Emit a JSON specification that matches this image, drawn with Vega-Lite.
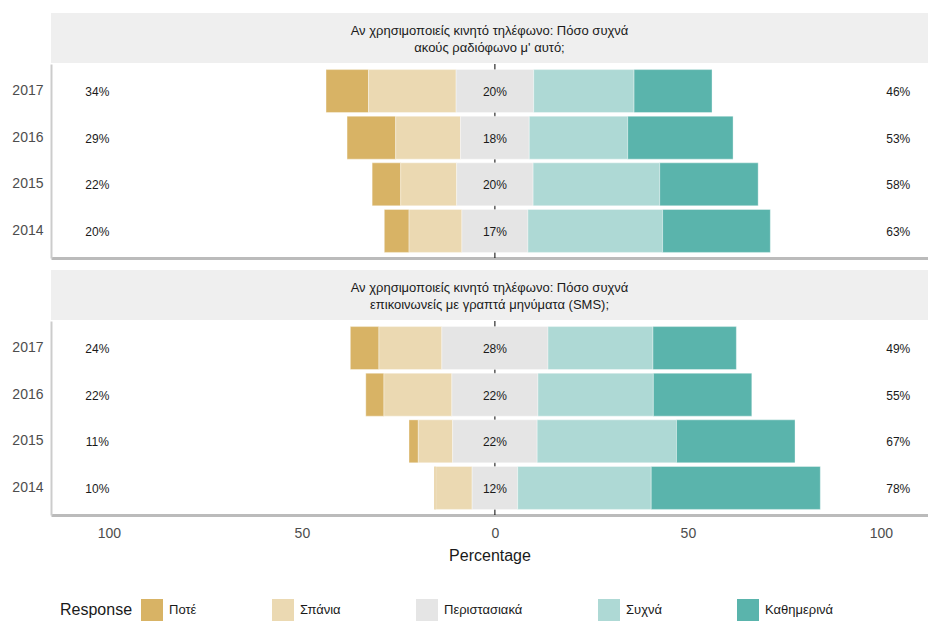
{
  "$schema": "https://vega.github.io/schema/vega-lite/v6.json",
  "background": "white",
  "padding": {"left": 0, "top": 13, "right": 0, "bottom": 0},
  "config": {
    "font": "Liberation Sans",
    "view": {"stroke": null},
    "concat": {"spacing": 0},
    "axis": {"grid": false}
  },
  "datasets": {
    "panels": [
      {"panel": 1, "title": "Αν χρησιμοποιείς κινητό τηλέφωνο: Πόσο συχνά\nακούς ραδιόφωνο μ' αυτό;"},
      {"panel": 2, "title": "Αν χρησιμοποιείς κινητό τηλέφωνο: Πόσο συχνά\nεπικοινωνείς με γραπτά μηνύματα (SMS);"}
    ],
    "bars": [
      {"panel": 1, "year": "2017", "response": "Ποτέ", "value": 11.0},
      {"panel": 1, "year": "2017", "response": "Σπάνια", "value": 22.7},
      {"panel": 1, "year": "2017", "response": "Περιστασιακά", "value": 20.1},
      {"panel": 1, "year": "2017", "response": "Συχνά", "value": 26.0},
      {"panel": 1, "year": "2017", "response": "Καθημερινά", "value": 20.2},
      {"panel": 1, "year": "2016", "response": "Ποτέ", "value": 12.6},
      {"panel": 1, "year": "2016", "response": "Σπάνια", "value": 16.8},
      {"panel": 1, "year": "2016", "response": "Περιστασιακά", "value": 17.8},
      {"panel": 1, "year": "2016", "response": "Συχνά", "value": 25.5},
      {"panel": 1, "year": "2016", "response": "Καθημερινά", "value": 27.3},
      {"panel": 1, "year": "2015", "response": "Ποτέ", "value": 7.4},
      {"panel": 1, "year": "2015", "response": "Σπάνια", "value": 14.5},
      {"panel": 1, "year": "2015", "response": "Περιστασιακά", "value": 19.8},
      {"panel": 1, "year": "2015", "response": "Συχνά", "value": 32.8},
      {"panel": 1, "year": "2015", "response": "Καθημερινά", "value": 25.5},
      {"panel": 1, "year": "2014", "response": "Ποτέ", "value": 6.4},
      {"panel": 1, "year": "2014", "response": "Σπάνια", "value": 13.7},
      {"panel": 1, "year": "2014", "response": "Περιστασιακά", "value": 17.1},
      {"panel": 1, "year": "2014", "response": "Συχνά", "value": 34.9},
      {"panel": 1, "year": "2014", "response": "Καθημερινά", "value": 27.9},
      {"panel": 2, "year": "2017", "response": "Ποτέ", "value": 7.4},
      {"panel": 2, "year": "2017", "response": "Σπάνια", "value": 16.3},
      {"panel": 2, "year": "2017", "response": "Περιστασιακά", "value": 27.5},
      {"panel": 2, "year": "2017", "response": "Συχνά", "value": 27.2},
      {"panel": 2, "year": "2017", "response": "Καθημερινά", "value": 21.6},
      {"panel": 2, "year": "2016", "response": "Ποτέ", "value": 4.7},
      {"panel": 2, "year": "2016", "response": "Σπάνια", "value": 17.6},
      {"panel": 2, "year": "2016", "response": "Περιστασιακά", "value": 22.3},
      {"panel": 2, "year": "2016", "response": "Συχνά", "value": 29.9},
      {"panel": 2, "year": "2016", "response": "Καθημερινά", "value": 25.5},
      {"panel": 2, "year": "2015", "response": "Ποτέ", "value": 2.4},
      {"panel": 2, "year": "2015", "response": "Σπάνια", "value": 8.9},
      {"panel": 2, "year": "2015", "response": "Περιστασιακά", "value": 21.9},
      {"panel": 2, "year": "2015", "response": "Συχνά", "value": 36.1},
      {"panel": 2, "year": "2015", "response": "Καθημερινά", "value": 30.7},
      {"panel": 2, "year": "2014", "response": "Ποτέ", "value": 0.4},
      {"panel": 2, "year": "2014", "response": "Σπάνια", "value": 9.4},
      {"panel": 2, "year": "2014", "response": "Περιστασιακά", "value": 11.8},
      {"panel": 2, "year": "2014", "response": "Συχνά", "value": 34.6},
      {"panel": 2, "year": "2014", "response": "Καθημερινά", "value": 43.8}
    ],
    "labels": [
      {"panel": 1, "year": "2017", "low": 34, "mid": 20, "high": 46},
      {"panel": 1, "year": "2016", "low": 29, "mid": 18, "high": 53},
      {"panel": 1, "year": "2015", "low": 22, "mid": 20, "high": 58},
      {"panel": 1, "year": "2014", "low": 20, "mid": 17, "high": 63},
      {"panel": 2, "year": "2017", "low": 24, "mid": 28, "high": 49},
      {"panel": 2, "year": "2016", "low": 22, "mid": 22, "high": 55},
      {"panel": 2, "year": "2015", "low": 11, "mid": 22, "high": 67},
      {"panel": 2, "year": "2014", "low": 10, "mid": 12, "high": 78}
    ]
  },
  "vconcat": [
    {
      "width": 877, "height": 50,
      "view": {"fill": "#efefef", "stroke": null},
      "data": {"name": "panels"},
      "transform": [{"filter": "datum.panel == 1"}],
      "mark": {"type": "text", "fontSize": 13, "color": "#1a1a1a", "lineBreak": "\n", "lineHeight": 17, "align": "center", "baseline": "middle", "dy": -7.5},
      "encoding": {"text": {"field": "title"}}
    },
    {
      "width": 877, "height": 194,
      "layer": [
        {
          "data": {"values": [{}]},
          "mark": {"type": "rule", "color": "#000000", "strokeWidth": 1},
          "encoding": {"x": {"datum": 0, "type": "quantitative", "title": null}}
        },
        {
          "data": {"name": "bars"},
          "transform": [
            {"filter": "datum.panel == 1"},
            {"calculate": "indexof(['Ποτέ','Σπάνια','Περιστασιακά','Συχνά','Καθημερινά'], datum.response)", "as": "order"},
            {"calculate": "datum.order < 2 ? datum.value : (datum.order == 2 ? datum.value / 2 : 0)", "as": "negpart"},
            {"joinaggregate": [{"op": "sum", "field": "negpart", "as": "offset"}], "groupby": ["panel", "year"]},
            {"window": [{"op": "sum", "field": "value", "as": "cum"}], "groupby": ["panel", "year"], "sort": [{"field": "order"}], "frame": [null, 0]},
            {"calculate": "datum.cum - datum.value - datum.offset", "as": "start"},
            {"calculate": "datum.cum - datum.offset", "as": "end"}
          ],
          "mark": {"type": "bar", "stroke": "white", "strokeWidth": 0.5, "strokeOpacity": 0.7},
          "encoding": {
            "y": {"field": "year", "type": "ordinal", "sort": "descending", "title": null,
                  "scale": {"paddingInner": 0.08, "paddingOuter": 0.12},
                  "axis": {"labelFontSize": 14, "labelColor": "#4d4d4d", "labelPadding": 5, "tickSize": 3, "tickColor": "#ffffff", "domainColor": "#cccccc", "domainWidth": 2, "minExtent": 51, "maxExtent": 51}},
            "x": {"field": "start", "type": "quantitative", "title": null,
                  "scale": {"domain": [-115, 112.2], "nice": false, "zero": false},
                  "axis": {"labels": false, "values": [-100, -75, -50, -25, 0, 25, 50, 75, 100], "domainColor": "#bbbbbb", "domainWidth": 3, "tickColor": "#ffffff", "tickSize": 3, "minExtent": 12, "maxExtent": 12}},
            "x2": {"field": "end"},
            "color": {"field": "response", "type": "nominal",
                      "scale": {"domain": ["Ποτέ", "Σπάνια", "Περιστασιακά", "Συχνά", "Καθημερινά"], "range": ["#d8b365", "#ebd9b2", "#e5e5e5", "#aed9d5", "#5ab4ac"]},
                      "legend": {"title": "Response", "orient": "none", "legendX": 9, "legendY": 586, "direction": "horizontal", "titleOrient": "left", "titleFontSize": 16, "titleFontWeight": "normal", "titleColor": "#1a1a1a", "titlePadding": 8, "labelFontSize": 13, "labelColor": "#1a1a1a", "symbolType": "square", "symbolSize": 484, "symbolStrokeWidth": 0, "labelOffset": 6, "columnPadding": 75, "padding": 0, "gridAlign": "each"}}
          }
        },
        {
          "data": {"name": "labels"},
          "transform": [{"filter": "datum.panel == 1"}, {"calculate": "datum.low + '%'", "as": "t"}],
          "mark": {"type": "text", "fontSize": 12, "color": "#1a1a1a", "dy": 1},
          "encoding": {"x": {"datum": -103, "type": "quantitative", "title": null}, "y": {"field": "year", "type": "ordinal", "sort": "descending", "title": null}, "text": {"field": "t"}}
        },
        {
          "data": {"name": "labels"},
          "transform": [{"filter": "datum.panel == 1"}, {"calculate": "datum.mid + '%'", "as": "t"}],
          "mark": {"type": "text", "fontSize": 12, "color": "#1a1a1a", "dy": 1},
          "encoding": {"x": {"datum": 0, "type": "quantitative", "title": null}, "y": {"field": "year", "type": "ordinal", "sort": "descending", "title": null}, "text": {"field": "t"}}
        },
        {
          "data": {"name": "labels"},
          "transform": [{"filter": "datum.panel == 1"}, {"calculate": "datum.high + '%'", "as": "t"}],
          "mark": {"type": "text", "fontSize": 12, "color": "#1a1a1a", "dy": 1},
          "encoding": {"x": {"datum": 104.5, "type": "quantitative", "title": null}, "y": {"field": "year", "type": "ordinal", "sort": "descending", "title": null}, "text": {"field": "t"}}
        }
      ]
    },
    {
      "width": 877, "height": 50,
      "view": {"fill": "#efefef", "stroke": null},
      "data": {"name": "panels"},
      "transform": [{"filter": "datum.panel == 2"}],
      "mark": {"type": "text", "fontSize": 13, "color": "#1a1a1a", "lineBreak": "\n", "lineHeight": 17, "align": "center", "baseline": "middle", "dy": -7.5},
      "encoding": {"text": {"field": "title"}}
    },
    {
      "width": 877, "height": 194,
      "layer": [
        {
          "data": {"values": [{}]},
          "mark": {"type": "rule", "color": "#000000", "strokeWidth": 1},
          "encoding": {"x": {"datum": 0, "type": "quantitative", "title": "Percentage"}}
        },
        {
          "data": {"name": "bars"},
          "transform": [
            {"filter": "datum.panel == 2"},
            {"calculate": "indexof(['Ποτέ','Σπάνια','Περιστασιακά','Συχνά','Καθημερινά'], datum.response)", "as": "order"},
            {"calculate": "datum.order < 2 ? datum.value : (datum.order == 2 ? datum.value / 2 : 0)", "as": "negpart"},
            {"joinaggregate": [{"op": "sum", "field": "negpart", "as": "offset"}], "groupby": ["panel", "year"]},
            {"window": [{"op": "sum", "field": "value", "as": "cum"}], "groupby": ["panel", "year"], "sort": [{"field": "order"}], "frame": [null, 0]},
            {"calculate": "datum.cum - datum.value - datum.offset", "as": "start"},
            {"calculate": "datum.cum - datum.offset", "as": "end"}
          ],
          "mark": {"type": "bar", "stroke": "white", "strokeWidth": 0.5, "strokeOpacity": 0.7},
          "encoding": {
            "y": {"field": "year", "type": "ordinal", "sort": "descending", "title": null,
                  "scale": {"paddingInner": 0.08, "paddingOuter": 0.12},
                  "axis": {"labelFontSize": 14, "labelColor": "#4d4d4d", "labelPadding": 5, "tickSize": 3, "tickColor": "#ffffff", "domainColor": "#cccccc", "domainWidth": 2, "minExtent": 51, "maxExtent": 51}},
            "x": {"field": "start", "type": "quantitative", "title": "Percentage",
                  "scale": {"domain": [-115, 112.2], "nice": false, "zero": false},
                  "axis": {"values": [-100, -75, -50, -25, 0, 25, 50, 75, 100], "labelExpr": "datum.value % 50 == 0 ? format(abs(datum.value), 'd') : ''", "labelFontSize": 14, "labelColor": "#4d4d4d", "labelPadding": 8, "domainColor": "#bbbbbb", "domainWidth": 3, "tickColor": "#ffffff", "tickSize": 3, "titleFontSize": 16, "titleFontWeight": "normal", "titleColor": "#1a1a1a", "titlePadding": 7}},
            "x2": {"field": "end"},
            "color": {"field": "response", "type": "nominal",
                      "scale": {"domain": ["Ποτέ", "Σπάνια", "Περιστασιακά", "Συχνά", "Καθημερινά"], "range": ["#d8b365", "#ebd9b2", "#e5e5e5", "#aed9d5", "#5ab4ac"]},
                      "legend": {"title": "Response", "orient": "none", "legendX": 9, "legendY": 586, "direction": "horizontal", "titleOrient": "left", "titleFontSize": 16, "titleFontWeight": "normal", "titleColor": "#1a1a1a", "titlePadding": 8, "labelFontSize": 13, "labelColor": "#1a1a1a", "symbolType": "square", "symbolSize": 484, "symbolStrokeWidth": 0, "labelOffset": 6, "columnPadding": 75, "padding": 0, "gridAlign": "each"}}
          }
        },
        {
          "data": {"name": "labels"},
          "transform": [{"filter": "datum.panel == 2"}, {"calculate": "datum.low + '%'", "as": "t"}],
          "mark": {"type": "text", "fontSize": 12, "color": "#1a1a1a", "dy": 1},
          "encoding": {"x": {"datum": -103, "type": "quantitative", "title": "Percentage"}, "y": {"field": "year", "type": "ordinal", "sort": "descending", "title": null}, "text": {"field": "t"}}
        },
        {
          "data": {"name": "labels"},
          "transform": [{"filter": "datum.panel == 2"}, {"calculate": "datum.mid + '%'", "as": "t"}],
          "mark": {"type": "text", "fontSize": 12, "color": "#1a1a1a", "dy": 1},
          "encoding": {"x": {"datum": 0, "type": "quantitative", "title": "Percentage"}, "y": {"field": "year", "type": "ordinal", "sort": "descending", "title": null}, "text": {"field": "t"}}
        },
        {
          "data": {"name": "labels"},
          "transform": [{"filter": "datum.panel == 2"}, {"calculate": "datum.high + '%'", "as": "t"}],
          "mark": {"type": "text", "fontSize": 12, "color": "#1a1a1a", "dy": 1},
          "encoding": {"x": {"datum": 104.5, "type": "quantitative", "title": "Percentage"}, "y": {"field": "year", "type": "ordinal", "sort": "descending", "title": null}, "text": {"field": "t"}}
        }
      ]
    }
  ],
  "resolve": {"scale": {"color": "shared"}}
}
